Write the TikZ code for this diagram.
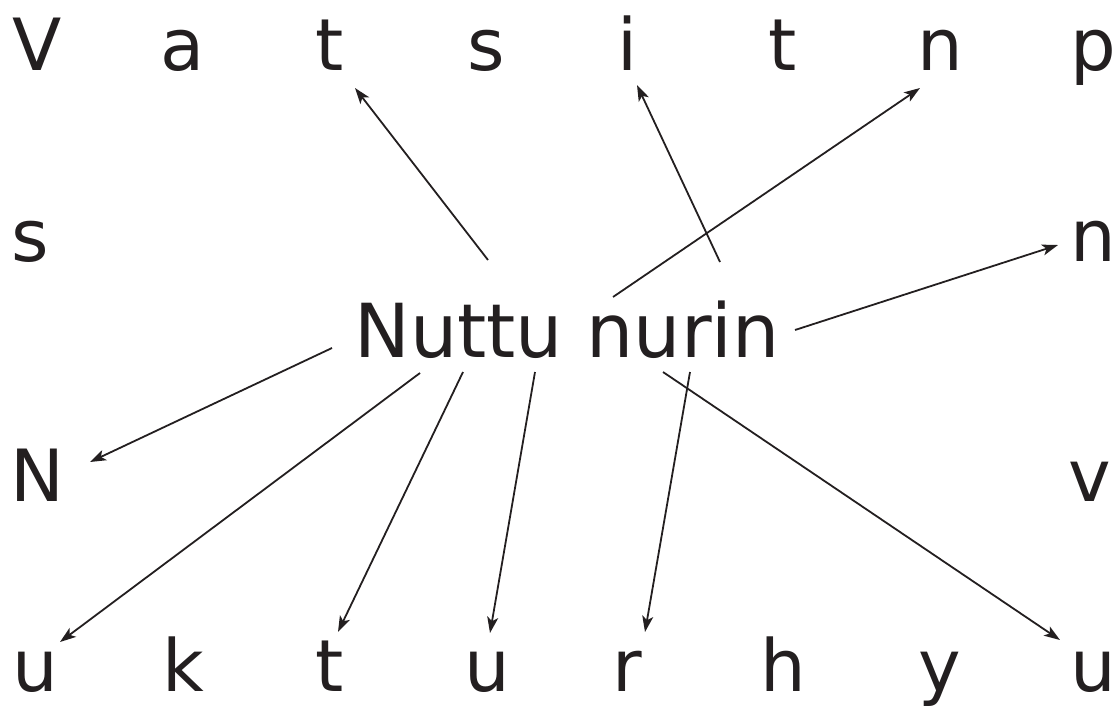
\documentclass[tikz,border=0pt]{standalone}
\usepackage{fontspec}
\setmainfont{DejaVu Sans}
\usetikzlibrary{arrows.meta}
\definecolor{ink}{HTML}{231F20}
\begin{document}
\begin{tikzpicture}[x=1pt,y=-1pt,
  lett/.style={inner sep=0pt,anchor=base,text=ink,font=\fontsize{72}{80}\selectfont},
  arr/.style={draw=ink,line width=1.8pt,-{Stealth[length=16pt,width=11pt,inset=4pt]}}]
\useasboundingbox (0,0) rectangle (1116,707);
% top row
\node[lett] (t1) at (37,70) {V};
\node[lett] (t2) at (183,70) {a};
\node[lett] (t3) at (330,70) {t};
\node[lett] (t4) at (486,70) {s};
\node[lett] (t5) at (627,70) {i};
\node[lett] (t6) at (783,70) {t};
\node[lett] (t7) at (940,70) {n};
\node[lett] (t8) at (1093,70) {p};
% sides
\node[lett] (l1) at (30,261) {s};
\node[lett] (r1) at (1093,261) {n};
\node[lett] (l2) at (37,501) {N};
\node[lett] (r2) at (1090,501) {v};
% bottom row
\node[lett] (b1) at (35,691) {u};
\node[lett] (b2) at (183,691) {k};
\node[lett] (b3) at (330,691) {t};
\node[lett] (b4) at (487,691) {u};
\node[lett] (b5) at (627,691) {r};
\node[lett] (b6) at (783,691) {h};
\node[lett] (b7) at (940,691) {y};
\node[lett] (b8) at (1093,691) {u};
% centre
\node[lett,font=\fontsize{74.5}{80}\selectfont] (c) at (567,357) {Nuttu nurin};
% connector ends
\coordinate (s1) at (488,260); \coordinate (e1) at (355,88);
\coordinate (s2) at (720,262); \coordinate (e2) at (637,85);
\coordinate (s3) at (613,297); \coordinate (e3) at (920,88);
\coordinate (s4) at (795,330); \coordinate (e4) at (1058,245);
\coordinate (s5) at (332,348); \coordinate (e5) at (90,462);
\coordinate (s6) at (420,373); \coordinate (e6) at (60,642);
\coordinate (s7) at (463,372); \coordinate (e7) at (338,632);
\coordinate (s8) at (535,372); \coordinate (e8) at (490,633);
\coordinate (s9) at (690,372); \coordinate (e9) at (645,632);
\coordinate (s10) at (663,372); \coordinate (e10) at (1060,640);
\foreach \i in {1,...,10} \draw[arr] (s\i) -- (e\i);
\end{tikzpicture}
\end{document}
